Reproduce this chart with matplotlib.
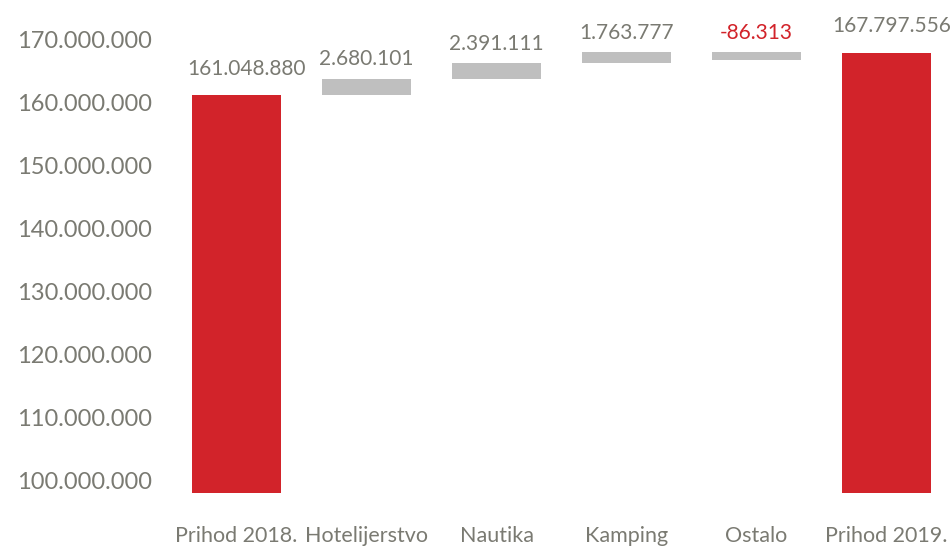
import numpy as np
import matplotlib
matplotlib.use("Agg")
import matplotlib.pyplot as plt

# data
categories = ["Prihod 2018.", "Hotelijerstvo", "Nautika", "Kamping", "Ostalo", "Prihod 2019."]
start_total = 161048880
changes = [2680101, 2391111, 1763777, -86313]
end_total = 167797556
y_ticks = [100000000, 110000000, 120000000, 130000000, 140000000, 150000000, 160000000, 170000000]

RED = "#d2232a"
GREY = "#bfbfbf"
TXT = "#7a7a72"

plt.rcParams['font.family'] = ['Lato', 'DejaVu Sans']

def fmt(v):
    return "{:,}".format(v).replace(",", ".")

fig = plt.figure(figsize=(9.53, 5.5), dpi=100)
ax = fig.add_axes([0.18, 0.104, 0.8185, 0.848])

x = np.arange(len(categories))
w = 0.68
ymin = 98000000
min_h = 1200000  # minimum visible thickness for tiny changes

ax.bar(x[0], start_total - ymin, bottom=ymin, width=w, color=RED)
ax.bar(x[-1], end_total - ymin, bottom=ymin, width=w, color=RED)
ax.text(x[0] + 0.08, start_total + 2600000, fmt(start_total), ha="center", va="bottom",
        color=TXT, fontsize=15)
ax.text(x[-1] + 0.04, end_total + 2600000, fmt(end_total), ha="center", va="bottom",
        color=TXT, fontsize=15, clip_on=False)

level = start_total
for i, c in enumerate(changes):
    lo = min(level, level + c)
    h = max(abs(c), min_h)
    if c < 0:
        lo = level - h
    ax.bar(x[i + 1], h, bottom=lo, width=w, color=GREY)
    col = RED if c < 0 else TXT
    ax.text(x[i + 1], lo + h + 1500000, fmt(c), ha="center", va="bottom",
            color=col, fontsize=15, clip_on=False)
    level += c

ax.set_xlim(-0.5, 5.5)
ax.set_ylim(ymin, 172000000)
ax.set_yticks(y_ticks)
ax.set_yticklabels([fmt(v) for v in y_ticks])
ax.set_xticks(x)
ax.set_xticklabels(categories)
ax.tick_params(axis="y", length=0, pad=14, labelsize=17, labelcolor=TXT)
ax.tick_params(axis="x", length=0, pad=24, labelsize=15.5, labelcolor=TXT)
for s in ax.spines.values():
    s.set_visible(False)

fig.savefig("out.png", dpi=100)
